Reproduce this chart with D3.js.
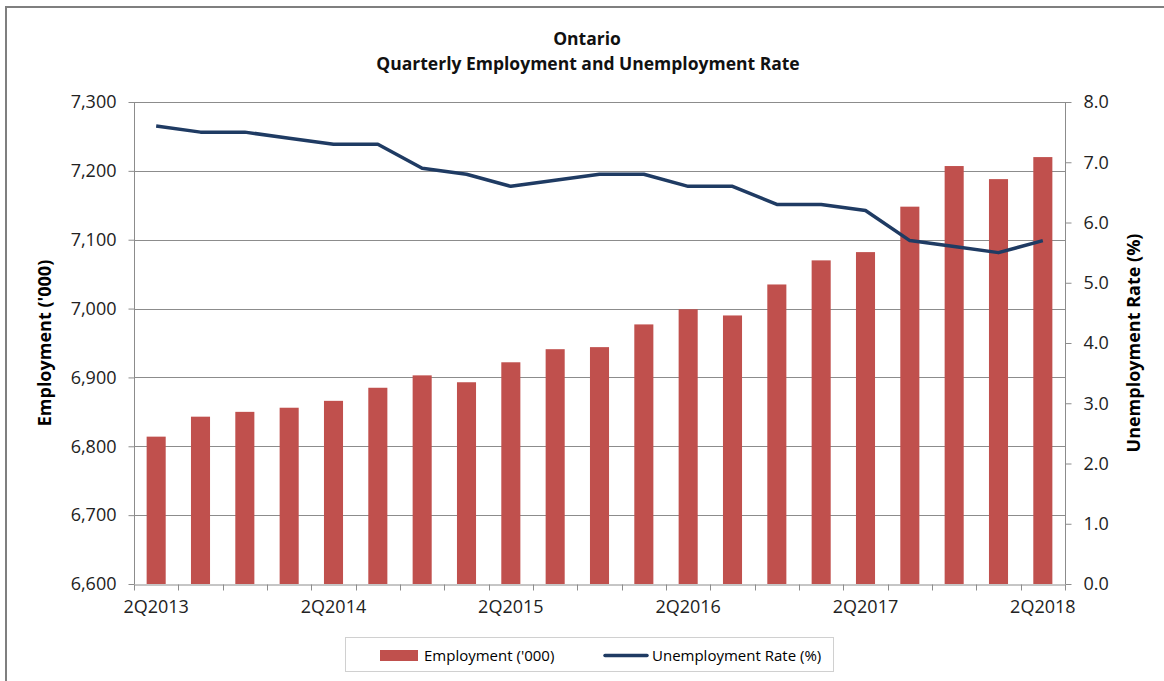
<!DOCTYPE html>
<html>
<head>
<meta charset="utf-8">
<script src="https://cdn.jsdelivr.net/npm/d3@7"></script>
<style>
  body { margin: 0; background: #fff; }
  svg { display: block; font-family: "Open Sans", sans-serif; }
</style>
</head>
<body>
<div id="chart"></div>
<script>
// quarters shown on the x axis
const quarters = ['2Q2013', '3Q2013', '4Q2013', '1Q2014', '2Q2014', '3Q2014', '4Q2014',
    '1Q2015', '2Q2015', '3Q2015', '4Q2015', '1Q2016', '2Q2016', '3Q2016', '4Q2016',
    '1Q2017', '2Q2017', '3Q2017', '4Q2017', '1Q2018', '2Q2018'];
// employment, thousands
const employment = [6814, 6843, 6850, 6856, 6866, 6885, 6903, 6893, 6922, 6941, 6944,
    6977, 6999, 6990, 7035, 7070, 7082, 7148, 7207, 7188, 7220];
// unemployment rate, %
const unemployment = [7.6, 7.5, 7.5, 7.4, 7.3, 7.3, 6.9, 6.8, 6.6, 6.7, 6.8,
    6.8, 6.6, 6.6, 6.3, 6.3, 6.2, 5.7, 5.6, 5.5, 5.7];
const labelledQuarters = ['2Q2013', '2Q2014', '2Q2015', '2Q2016', '2Q2017', '2Q2018'];
const leftTicks = [6600, 6700, 6800, 6900, 7000, 7100, 7200, 7300];
const rightTicks = [0, 1, 2, 3, 4, 5, 6, 7, 8];

const W = 1164, H = 681;
const plot = { left: 134, right: 1065, top: 102, bottom: 584 };
const barColor = '#C0504D', lineColor = '#1F3B63', gridColor = '#8c8c8c';

const svg = d3.select('#chart').append('svg').attr('width', W).attr('height', H);

// outer chart frame
svg.append('rect')
    .attr('x', 6).attr('y', 7).attr('width', W + 10).attr('height', H + 10)
    .attr('fill', 'none').attr('stroke', '#7f7f7f').attr('stroke-width', 2);

const x = d3.scaleBand().domain(quarters).range([plot.left, plot.right]).padding(0);
const yL = d3.scaleLinear().domain([6600, 7300]).range([plot.bottom, plot.top]);
const yR = d3.scaleLinear().domain([0, 8]).range([plot.bottom, plot.top]);

// gridlines
svg.append('g').selectAll('line')
    .data(leftTicks.slice(1))
    .join('line')
    .attr('x1', plot.left).attr('x2', plot.right)
    .attr('y1', d => Math.round(yL(d)) + 0.5).attr('y2', d => Math.round(yL(d)) + 0.5)
    .attr('stroke', gridColor).attr('stroke-width', 1);

// bars
const barW = x.bandwidth() * 0.43;
svg.append('g').selectAll('rect')
    .data(quarters)
    .join('rect')
    .attr('x', (d) => x(d) + (x.bandwidth() - barW) / 2)
    .attr('y', (d, i) => yL(employment[i]))
    .attr('width', barW)
    .attr('height', (d, i) => plot.bottom - yL(employment[i]))
    .attr('fill', barColor);

// left axis
const leftAxis = svg.append('g')
    .attr('transform', `translate(${plot.left + 0.5},0)`)
    .call(d3.axisLeft(yL).tickValues(leftTicks).tickFormat(d3.format(',')).tickSizeOuter(0).tickSize(6).tickPadding(12));

// right axis
const rightAxis = svg.append('g')
    .attr('transform', `translate(${plot.right + 0.5},0)`)
    .call(d3.axisRight(yR).tickValues(rightTicks).tickFormat(d3.format('.1f')).tickSizeOuter(0).tickSize(6).tickPadding(12));

// bottom axis: boundary ticks, labels every fourth quarter
const bottomAxis = svg.append('g')
    .attr('transform', `translate(0,${plot.bottom + 0.5})`)
    .call(d3.axisBottom(x).tickValues(labelledQuarters).tickSize(0).tickPadding(16).tickSizeOuter(0));
bottomAxis.selectAll('.tick line').remove();
bottomAxis.append('g').selectAll('line')
    .data(quarters.concat(['end']))
    .join('line')
    .attr('x1', (d, i) => Math.round(i < quarters.length ? x(d) : plot.right) + 0.5)
    .attr('x2', (d, i) => Math.round(i < quarters.length ? x(d) : plot.right) + 0.5)
    .attr('y1', 0).attr('y2', 6)
    .attr('stroke', gridColor);

[leftAxis, rightAxis, bottomAxis].forEach(g => {
    g.selectAll('.domain').attr('stroke', gridColor).attr('stroke-width', 1);
    g.selectAll('.tick line').attr('stroke', gridColor);
    g.selectAll('text').attr('font-size', 18).attr('fill', '#222').attr('font-family', '"Open Sans", sans-serif');
});
leftAxis.select('.domain').attr('d', `M0,${plot.top}V${plot.bottom}`);
rightAxis.select('.domain').attr('d', `M0,${plot.top}V${plot.bottom}`);

// unemployment line
const line = d3.line()
    .x(d => x(d.q) + x.bandwidth() / 2)
    .y(d => yR(d.v));
svg.append('path')
    .datum(quarters.map((q, i) => ({ q, v: unemployment[i] })))
    .attr('d', line)
    .attr('fill', 'none')
    .attr('stroke', lineColor)
    .attr('stroke-width', 3.5)
    .attr('stroke-linejoin', 'round');

// titles
const title = svg.append('g').attr('font-weight', 'bold').attr('font-size', 17.5)
    .attr('text-anchor', 'middle').attr('fill', '#111');
title.append('text').attr('x', 587).attr('y', 45).text('Ontario');
title.append('text').attr('x', 588).attr('y', 70).text('Quarterly Employment and Unemployment Rate');

svg.append('text')
    .attr('transform', `translate(51,${(plot.top + plot.bottom) / 2}) rotate(-90)`)
    .attr('text-anchor', 'middle').attr('font-weight', 'bold').attr('font-size', 18)
    .text("Employment ('000)");
svg.append('text')
    .attr('transform', `translate(1140,${(plot.top + plot.bottom) / 2}) rotate(-90)`)
    .attr('text-anchor', 'middle').attr('font-weight', 'bold').attr('font-size', 18)
    .text('Unemployment Rate (%)');

// legend
const legend = svg.append('g');
legend.append('rect')
    .attr('x', 345.5).attr('y', 637.5).attr('width', 488).attr('height', 34)
    .attr('fill', '#fff').attr('stroke', '#d0d0d0');
legend.append('rect')
    .attr('x', 380).attr('y', 650).attr('width', 38).attr('height', 11).attr('fill', barColor);
legend.append('text').attr('x', 424).attr('y', 661).attr('font-size', 15).text("Employment ('000)");
legend.append('line')
    .attr('x1', 605).attr('x2', 647).attr('y1', 655.5).attr('y2', 655.5)
    .attr('stroke', lineColor).attr('stroke-width', 3.5).attr('stroke-linecap', 'round');
legend.append('text').attr('x', 652).attr('y', 661).attr('font-size', 15).text('Unemployment Rate (%)');
</script>
</body>
</html>
